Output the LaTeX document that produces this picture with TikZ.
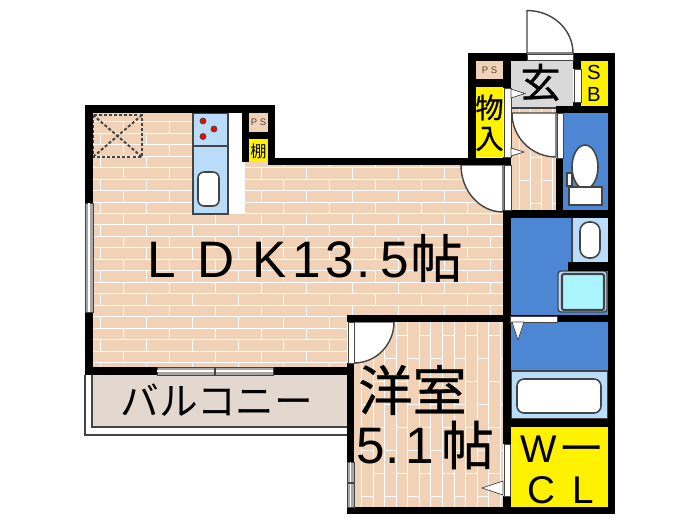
\documentclass[tikz,border=0pt]{standalone}
\usepackage{fontspec}
\newfontfamily\cjk{Noto Sans CJK JP}
\newfontfamily\cjkheavy[FakeBold=0.6]{Noto Sans CJK JP}
\newfontfamily\latn{Liberation Sans}
\definecolor{floorcol}{HTML}{F2D2B6}
\definecolor{bluecol}{HTML}{4D87D3}
\definecolor{paleblue}{HTML}{B9DCFA}
\definecolor{entrycol}{HTML}{D9D9D9}
\definecolor{balconycol}{HTML}{E3D8CF}
\definecolor{washcol}{HTML}{AAF5FF}
\definecolor{linecol}{HTML}{444444}
\definecolor{wincol}{HTML}{A6A6A6}
\tikzset{
  wall/.style={fill=black},
  board/.style={white,line width=0.25pt},
  strip/.style={fill=white,draw=linecol,line width=0.2pt},
  door/.style={fill=white,draw=linecol,line width=0.4pt},
  fixture/.style={fill=white,draw=linecol,line width=0.45pt,rounded corners=0.6mm},
  storemark/.style={linecol,line width=0.55pt,dash pattern=on 0.85pt off 0.6pt},
  label/.style={inner sep=0pt,text=black,anchor=base},
  big/.style={label,font=\latn\fontsize{14.6}{15}\selectfont},
  wcl/.style={label,font=\latn\fontsize{11}{12}\selectfont},
  knob/.style={fill=white,draw=linecol,line width=0.2pt}
}

\begin{document}
\begin{tikzpicture}[scale=0.1]
      \useasboundingbox (0,0) rectangle (70,-52.5);
      % floors
      \fill [floorcol] (9.3,-11.3) -- (26.8,-11.3) -- (26.8,-16.5) -- (50.3,-16.5) -- (50.3,-31.5) -- (34.7,-31.5) -- (34.7,-36.7) -- (9.3,-36.7) -- cycle;
      \fill [floorcol] (35.4,-32.2) rectangle (50.3,-50.7);
      \fill [floorcol] (51.1,-10.8) rectangle (55.6,-21);
      \fill [balconycol] (9.2,-37.5) rectangle (34.7,-42.7);
      \fill [bluecol] (56.3,-11.3) rectangle (60.8,-21);
      \fill [bluecol] (51.1,-21.8) rectangle (60.8,-37.1);
      \fill [yellow] (51.1,-42.7) rectangle (60.8,-50.7);
      \fill [yellow] (47.6,-8.7) rectangle (50.3,-15.7);
      \fill [yellow] (58.1,-6.1) rectangle (60.8,-10.6);
      \fill [yellow] (24.9,-13.9) rectangle (26.8,-16.2);
      \fill [entrycol] (51.1,-6.1) rectangle (57.3,-10.8);
      \fill [floorcol] (47.6,-6.1) rectangle (50.3,-7.9);
      \fill [floorcol] (24.9,-11.3) rectangle (26.8,-13.2);
      % brick lines of the living room
      \begin{scope}
        \clip (9.3,-11.3) -- (24.2,-11.3) -- (24.2,-16.5) -- (50.3,-16.5) -- (50.3,-31.5) -- (34.7,-31.5) -- (34.7,-36.7) -- (9.3,-36.7) -- cycle;
        \foreach \k in {0,...,21} {
          \pgfmathsetmacro{\rowy}{-12.17-1.147*\k}
          \pgfmathsetmacro{\rowx}{isodd(\k) ? 10.07 : 12.37}
          \draw [board] (9,\rowy) -- (51,\rowy);
          \foreach \j in {0,...,8}
            \draw [board] ({\rowx+4.58*\j},\rowy) -- ({\rowx+4.58*\j},{\rowy-1.147});
        }
      \end{scope}
      % board lines of the small room and the hall
      \begin{scope}
        \clip (35.4,-32.2) rectangle (50.3,-50.7);
        \foreach \k in {0,...,12} {
          \pgfmathsetmacro{\colx}{36.17+1.153*\k}
          \pgfmathsetmacro{\coly}{isodd(\k) ? -33.5 : -35.8}
          \draw [board] (\colx,-32) -- (\colx,-51);
          \foreach \j in {0,...,4}
            \draw [board] (\colx,{\coly-4.6*\j}) -- ({\colx+1.153},{\coly-4.6*\j});
        }
      \end{scope}
      \begin{scope}
        \clip (51.1,-10.8) rectangle (55.6,-21);
        \foreach \k in {0,...,3} {
          \pgfmathsetmacro{\colx}{51.9+1.12*\k}
          \pgfmathsetmacro{\coly}{isodd(\k) ? -15.7 : -18}
          \draw [board] (\colx,-10.8) -- (\colx,-21);
          \foreach \j in {0,...,1}
            \draw [board] (\colx,{\coly-4.6*\j}) -- ({\colx+1.12},{\coly-4.6*\j});
        }
      \end{scope}
      % kitchen
      \fill [white] (22.8,-11.3) rectangle (24.5,-21.4);
      \draw [fill=paleblue,draw=linecol,line width=0.4pt] (19.3,-11.3) rectangle (22.8,-21.4);
      \draw [draw=linecol,line width=0.4pt] (19.3,-14.6) -- (22.8,-14.6);
      \draw [fixture] (19.8,-17.2) rectangle (21.9,-20.6);
      \foreach \hobx/\hoby in {20.3/-12.1,21.4/-12.9,20.3/-13.65}
        \draw [fill=red,draw=linecol,line width=0.2pt] (\hobx,\hoby) circle (0.3);
      % storage mark
      \draw [storemark] (9.3,-11.5) rectangle (14.2,-15.7);
      \draw [storemark] (9.3,-11.5) -- (14.2,-15.7);
      \draw [storemark] (14.2,-11.5) -- (9.3,-15.7);
      % toilet
      \draw [fixture,rounded corners=0pt] (56.7,-17.3) rectangle (57.2,-18.6);
      \draw [fill=white,draw=linecol,line width=0.45pt] (58.5,-16.7) ellipse (1.3 and 2.2);
      \draw [fixture,rounded corners=0pt] (56.9,-18.7) rectangle (60.2,-20.5);
      % washroom
      \fill [paleblue] (57.2,-21.8) rectangle (60.8,-26.2);
      \draw [linecol,line width=0.4pt] (57.2,-21.8) -- (57.2,-26.2);
      \draw [fixture,rounded corners=0.9mm] (58,-22.2) rectangle (60,-25.8);
      \draw [fill=paleblue,draw=linecol,line width=0.4pt,rounded corners=0.3mm] (55.8,-27.1) rectangle (60.7,-31.2);
      \draw [fill=washcol,draw=linecol,line width=0.6pt,rounded corners=0.2mm] (56.2,-27.4) rectangle (60.4,-31);
      % bath
      \draw [fill=paleblue,draw=linecol,line width=0.3pt] (51.1,-37.1) rectangle (60.8,-41.9);
      \draw [fixture,rounded corners=0.7mm] (51.7,-37.9) rectangle (60.1,-41.3);
      % balcony
      \draw [linecol,line width=0.35pt] (8.5,-37.5) -- (8.5,-43.5) -- (34.7,-43.5);
      \draw [linecol,line width=0.35pt] (9.2,-37.5) -- (9.2,-42.7) -- (34.7,-42.7);
      % doors
      \draw [door] (52.7,-5.3) -- (52.7,-1.05) arc (90:0:4.6 and 4.25) -- cycle;
      \draw [door] (55.6,-11.3) -- (51.2,-11.3) arc (180:270:4.4) -- cycle;
      \draw [door] (50.3,-16.5) -- (46.1,-16.5) arc (180:270:4.2 and 4.7) -- cycle;
      \draw [door] (35.4,-32.2) -- (39.4,-32.2) arc (0:-90:4 and 4.1) -- cycle;
      % walls
      \fill [wall] (8.5,-10.5) rectangle (27.5,-11.3);
      \fill [wall] (8.5,-10.5) rectangle (9.3,-20.3);
      \fill [wall] (8.5,-31.2) rectangle (9.3,-37.5);
      \fill [wall] (8.5,-36.7) rectangle (15.7,-37.5);
      \fill [wall] (27.3,-36.7) rectangle (35.4,-37.5);
      \fill [wall] (24.2,-11) rectangle (24.9,-16.2);
      \fill [wall] (26.8,-10.5) rectangle (27.5,-16.5);
      \fill [wall] (24.9,-13.2) rectangle (26.8,-13.9);
      \fill [wall] (26.8,-15.8) rectangle (51,-16.5);
      \fill [wall] (46.8,-5.3) rectangle (47.6,-16.5);
      \fill [wall] (46.8,-5.3) rectangle (52.7,-6.1);
      \fill [wall] (57.3,-5.3) rectangle (61.5,-6.1);
      \fill [wall] (47.6,-7.9) rectangle (50.3,-8.7);
      \fill [wall] (50.3,-5.3) rectangle (51.1,-8.8);
      \fill [wall] (50.3,-15.7) rectangle (51.1,-16.5);
      \fill [wall] (60.8,-5.3) rectangle (61.5,-51.4);
      \fill [wall] (57.3,-6.1) rectangle (58.1,-6.9);
      \fill [wall] (57.3,-10.2) rectangle (58.1,-10.9);
      \fill [wall] (55.6,-10.6) rectangle (61.5,-11.3);
      \fill [wall] (55.6,-15.8) rectangle (56.3,-21.8);
      \fill [wall] (50.3,-21) rectangle (61.5,-21.8);
      \fill [wall] (50.3,-21) rectangle (51.1,-44.4);
      \fill [wall] (56.8,-26.2) rectangle (60.8,-27.1);
      \fill [wall] (34.7,-31.5) rectangle (61.5,-32.2);
      \fill [wall] (50.3,-41.9) rectangle (61.5,-42.7);
      \fill [wall] (50.3,-49.6) rectangle (51.1,-51.4);
      \fill [wall] (34.7,-36.3) rectangle (35.4,-46.2);
      \fill [wall] (34.7,-50.7) rectangle (61.5,-51.4);
      % windows
      \draw [fill=wincol,draw=linecol,line width=0.2pt] (8.5,-20.3) rectangle (9.3,-31.2);
      \draw [white,line width=0.3pt] (8.9,-20.3) -- (8.9,-31.2);
      \draw [fill=wincol,draw=linecol,line width=0.2pt] (15.7,-36.7) rectangle (27.3,-37.5);
      \draw [white,line width=0.3pt] (15.7,-37.1) -- (27.3,-37.1);
      \draw [linecol,line width=0.3pt] (21.5,-36.7) -- (21.5,-37.5);
      \draw [fill=wincol,draw=linecol,line width=0.2pt] (34.7,-46.2) rectangle (35.4,-50.7);
      \draw [white,line width=0.3pt] (35.05,-46.2) -- (35.05,-50.7);
      \draw [linecol,line width=0.3pt] (34.7,-48.3) -- (35.4,-48.3);
      % door strips
      \draw [strip] (52.7,-5.45) rectangle (57.3,-6.0);
      \draw [strip] (50.4,-8.8) rectangle (51.1,-15.7);
      \draw [strip] (50.4,-16.5) rectangle (51.1,-21);
      \draw [strip] (57.4,-6.9) rectangle (58.1,-10.2);
      \draw [strip] (55.7,-11.3) rectangle (56.3,-15.8);
      \draw [strip] (51,-31.6) rectangle (55.7,-32.2);
      \draw [strip] (34.8,-32.2) rectangle (35.4,-36.3);
      \draw [strip] (50.4,-44.4) rectangle (51,-49.6);
      \draw [linecol,line width=0.4pt] (51.1,-10.8) -- (55.6,-10.8);
      % knobs
      \draw [knob] (51.1,-8.9) -- (52.5,-9.35) -- (51.1,-9.8) -- cycle;
      \draw [knob] (51.1,-14.8) -- (52.4,-15.2) -- (51.1,-15.6) -- cycle;
      \draw [knob] (51.2,-32.2) -- (52.4,-32.2) -- (51.8,-34) -- cycle;
      \draw [knob] (50.3,-48.1) -- (48.2,-48.8) -- (50.3,-49.5) -- cycle;
      % labels
      \node [big] (ldkl) at (16.15,-27.7) {L};
      \node [big] (ldkd) at (21.65,-27.7) {D};
      \node [big] (ldkk) at (27,-27.7) {K};
      \node [big] (ldka) at (30.7,-27.7) {1};
      \node [big] (ldkb) at (34,-27.7) {3};
      \node [big] (ldkc) at (36.4,-27.7) {.};
      \node [big] (ldke) at (39.5,-27.7) {5};
      \node [label,anchor=center,font=\cjkheavy\fontsize{14.8}{15}\selectfont] (ldkf) at (43.65,-25.8) {帖};
      \node [label,anchor=center,font=\cjk\fontsize{11}{11}\selectfont] (balcony) at (21.7,-40) {バルコニー};
      \node [label,anchor=center,font=\cjkheavy\fontsize{15.4}{16}\selectfont] (yoshitsu) at (41.25,-39) {洋室};
      \node [big] (yoa) at (37.05,-46.3) {5};
      \node [big] (yob) at (39.25,-46.3) {.};
      \node [big] (yoc) at (42,-46.3) {1};
      \node [label,anchor=center,font=\cjkheavy\fontsize{15}{16}\selectfont] (yod) at (46.75,-44.5) {帖};
      \node [label,anchor=center,font=\cjkheavy\fontsize{8}{8}\selectfont] (mono) at (48.95,-10.75) {物};
      \node [label,anchor=center,font=\cjkheavy\fontsize{8}{8}\selectfont] (iri) at (48.95,-13.9) {入};
      \node [label,anchor=center,font=\cjkheavy\fontsize{11.4}{12}\selectfont] (genkan) at (54.05,-8.25) {玄};
      \node [label,anchor=center,font=\latn\fontsize{5.8}{6}\selectfont] (sbs) at (59.4,-7.25) {S};
      \node [label,anchor=center,font=\latn\fontsize{5.8}{6}\selectfont] (sbb) at (59.4,-9.4) {B};
      \node [label,anchor=center,font=\latn\fontsize{2.7}{3}\selectfont,text=linecol] (psa) at (48.95,-7) {P S};
      \node [label,anchor=center,font=\latn\fontsize{2.7}{3}\selectfont,text=linecol] (psb) at (25.85,-12.2) {P S};
      \node [label,anchor=center,font=\cjk\fontsize{4.6}{5}\selectfont] (tana) at (25.85,-15.1) {棚};
      \node [wcl] (wa) at (53.85,-46.2) {W};
      \node [label,anchor=center,font=\cjk\fontsize{11}{12}\selectfont] (bar) at (58.15,-45.4) {\scalebox{1.2}[1]{ー}};
      \node [wcl] (ca) at (54.15,-50.3) {C};
      \node [wcl] (la) at (58.3,-50.3) {L};
\end{tikzpicture}
\end{document}
